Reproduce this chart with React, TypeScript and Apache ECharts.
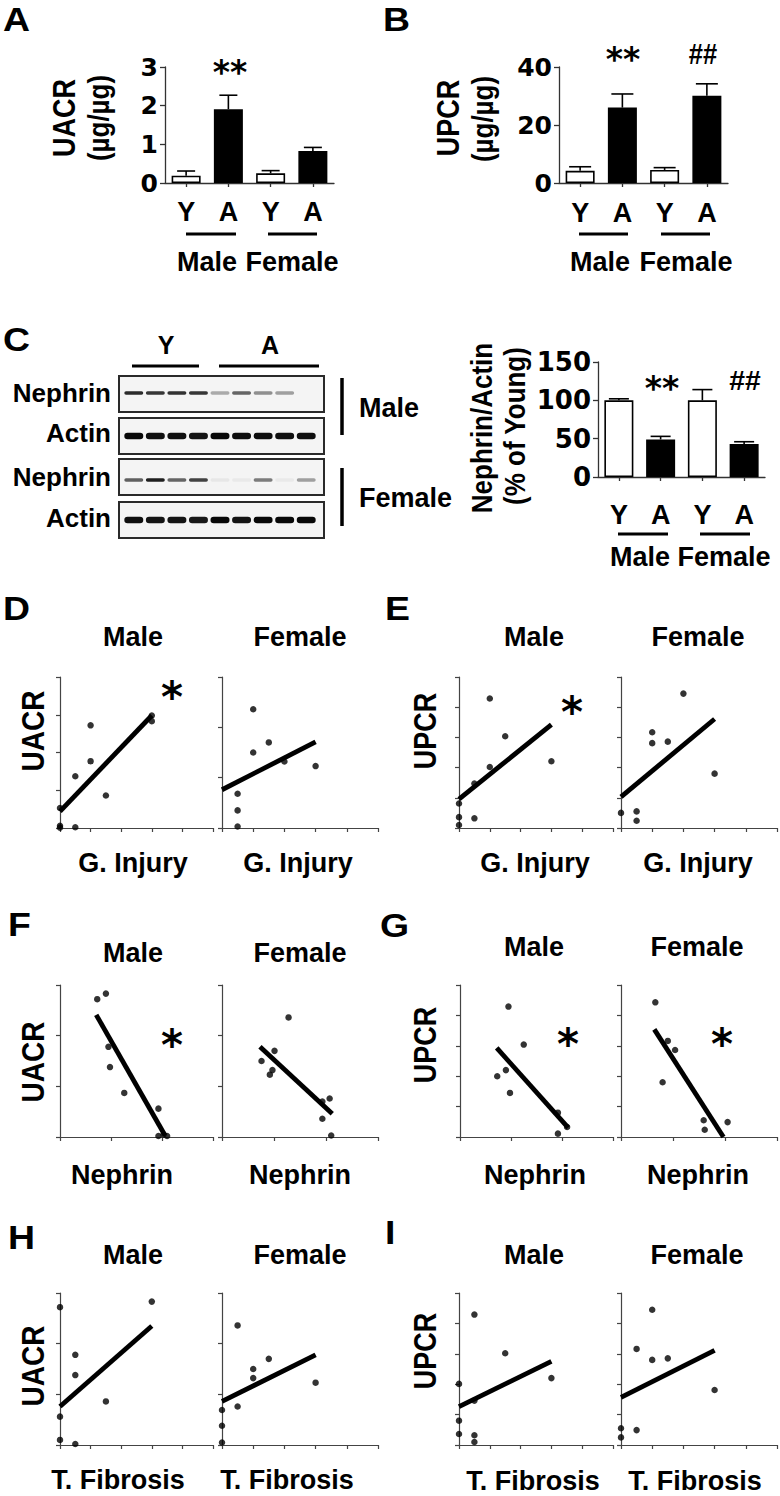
import React, { useEffect, useRef } from "react";
import * as echarts from "echarts";

const ARIAL = "'Liberation Sans', Arial, sans-serif";
const DEJAVU = "'DejaVu Sans', sans-serif";

// ---------- Bar chart data (A, B, C) ----------
const barCategories = ["Y", "A", "Y", "A"];
const barFills = ["#ffffff", "#000000", "#ffffff", "#000000"];
const uacrMeans = [0.19, 1.91, 0.25, 0.83];
const uacrUpper = [0.31, 2.27, 0.32, 0.92];
const upcrMeans = [4.2, 26.0, 4.5, 30.1];
const upcrUpper = [5.6, 30.7, 5.3, 34.2];
const nephrinMeans = [100, 49, 100, 43];
const nephrinUpper = [102, 53, 114, 46];

// ---------- Western blot (C) ----------
const blotLanes = ["1", "2", "3", "4", "5", "6", "7", "8", "9"];
const blotRows = ["Nephrin", "Actin", "Nephrin", "Actin"];
const nephrinMaleBands = [0.85, 0.8, 0.82, 0.8, 0.3, 0.6, 0.42, 0.35, 0];
const actinMaleBands = [1, 0.97, 0.97, 0.95, 1, 0.98, 0.98, 0.97, 0.97];
const nephrinFemaleBands = [0.62, 0.9, 0.6, 0.75, 0.04, 0.03, 0.5, 0.03, 0.35];
const actinFemaleBands = [0.97, 0.95, 0.95, 0.93, 1, 0.95, 1, 1, 1];

// ---------- Scatter data (D - I) ----------
const dMalePts = [[0, 0.53], [0, 0.06], [0, 0.01], [0.5, 0.02], [0.5, 1.37], [1, 2.72], [1, 1.77], [1.5, 0.86], [3, 2.98], [3, 2.83]];
const dMaleFit = [[0, 0.44], [3, 2.98]];
const dFemalePts = [[0.5, 0.68], [0.5, 0.35], [0.5, 0.03], [1, 2.36], [1, 1.5], [1.5, 1.7], [2, 1.32], [3, 1.23]];
const dFemaleFit = [[0, 0.76], [3, 1.71]];

const eMalePts = [[0, 0.81], [0, 0.36], [0, 0.1], [0.5, 0.32], [0.5, 1.47], [1, 2.02], [1, 4.29], [1.5, 3.04], [3, 2.21]];
const eMaleFit = [[0, 0.96], [3, 3.42]];
const eFemalePts = [[0, 0.5], [0.5, 0.55], [0.5, 0.24], [1, 3.17], [1, 2.81], [1.5, 2.86], [2, 4.45], [3, 1.8]];
const eFemaleFit = [[0, 1.03], [3, 3.61]];

const fMalePts = [[0.73, 2.72], [0.9, 2.83], [0.95, 1.78], [0.98, 1.38], [1.26, 0.87], [1.93, 0.56], [1.93, 0.02], [2.03, 0.05], [2.1, 0.02]];
const fMaleFit = [[0.71, 2.41], [2.06, 0.03]];
const fFemalePts = [[0.76, 1.5], [0.92, 1.23], [0.97, 1.32], [1.01, 1.7], [1.28, 2.36], [1.93, 0.36], [1.93, 0.7], [2.07, 0.76], [2.1, 0.03]];
const fFemaleFit = [[0.73, 1.78], [2.12, 0.46]];

const gMalePts = [[0.73, 2.0], [0.9, 2.2], [0.98, 1.45], [0.95, 4.29], [1.25, 3.04], [1.92, 0.8], [1.92, 0.11], [2.1, 0.33]];
const gMaleFit = [[0.72, 2.93], [2.12, 0.31]];
const gFemalePts = [[0.66, 4.43], [0.8, 1.8], [0.9, 3.16], [1.04, 2.86], [1.59, 0.55], [1.61, 0.24], [2.05, 0.49]];
const gFemaleFit = [[0.64, 3.54], [1.97, 0]];

const hMalePts = [[0, 2.72], [0, 0.56], [0, 0.1], [0.5, 1.78], [0.5, 1.38], [0.5, 0.02], [1.5, 0.86], [3, 2.83]];
const hMaleFit = [[0, 0.76], [3, 2.35]];
const hFemalePts = [[0, 0.69], [0, 0.38], [0, 0.05], [0.5, 2.36], [0.5, 0.76], [1, 1.5], [1, 1.32], [1.5, 1.7], [3, 1.23]];
const hFemaleFit = [[0, 0.86], [3, 1.78]];

const iMalePts = [[0, 2.01], [0, 0.8], [0, 0.36], [0.5, 1.46], [0.5, 0.32], [0.5, 0.1], [0.5, 4.29], [1.5, 3.02], [3, 2.2]];
const iMaleFit = [[0, 1.26], [3, 2.75]];
const iFemalePts = [[0, 0.55], [0, 0.25], [0.5, 0.49], [0.5, 3.16], [1, 2.8], [1.5, 2.85], [1, 4.45], [3, 1.81]];
const iFemaleFit = [[0, 1.57], [3, 3.11]];

// ---------- layout ----------
const grids = [
  { left: 165, top: 67, width: 169, height: 116 }, // 0 A
  { left: 559, top: 67, width: 169, height: 116 }, // 1 B
  { left: 123, top: 373, width: 194, height: 168 }, // 2 blot
  { left: 598, top: 362, width: 167, height: 115 }, // 3 C bars
  { left: 60, top: 677, width: 153, height: 151 }, // 4 D male
  { left: 222, top: 677, width: 156, height: 151 }, // 5 D female
  { left: 459, top: 677, width: 154, height: 151 }, // 6 E male
  { left: 621, top: 677, width: 156, height: 151 }, // 7 E female
  { left: 60, top: 985, width: 153, height: 152 }, // 8 F male
  { left: 222, top: 985, width: 156, height: 152 }, // 9 F female
  { left: 460, top: 985, width: 153, height: 152 }, // 10 G male
  { left: 621, top: 985, width: 156, height: 152 }, // 11 G female
  { left: 60, top: 1293, width: 153, height: 152 }, // 12 H male
  { left: 222, top: 1293, width: 156, height: 152 }, // 13 H female
  { left: 459, top: 1293, width: 154, height: 152 }, // 14 I male
  { left: 621, top: 1293, width: 156, height: 152 }, // 15 I female
];

const AXIS = "#333";
const ROT = Math.PI / 2;

function txt(text: string, x: number, y: number, o: any = {}) {
  const align = o.align || "center";
  return {
    type: "text",
    x,
    y,
    rotation: o.rot || 0,
    scaleX: o.sx || 1,
    scaleY: o.sy || 1,
    silent: true,
    style: {
      text,
      fill: "#000",
      fontSize: o.size || 27,
      fontWeight: o.weight || "bold",
      fontFamily: o.family || ARIAL,
      align,
      verticalAlign: "middle",
      textAlign: align,
      textVerticalAlign: "middle",
    },
  };
}
function vtxt(text: string, x: number, y: number, size = 27) {
  return txt(text, x, y, { rot: ROT, size, sy: 1.15 });
}
function hline(x1: number, y1: number, x2: number, y2: number, w = 3) {
  return { type: "line", silent: true, shape: { x1, y1, x2, y2 }, style: { stroke: "#000", lineWidth: w } };
}

export default function App() {
  const ref = useRef<HTMLDivElement>(null);
  useEffect(() => {
    document.body.style.margin = "0";
    const chart = echarts.init(ref.current!, null, { renderer: "svg" });

    const xAxes: any[] = [];
    const yAxes: any[] = [];
    const series: any[] = [];

    // ---- bar panels ----
    const barPanels = [
      { grid: 0, means: uacrMeans, upper: uacrUpper, max: 3, interval: 1, labelSize: 25, xMargin: 15, cap: 9 },
      { grid: 1, means: upcrMeans, upper: upcrUpper, max: 40, interval: 20, labelSize: 25, xMargin: 16, cap: 11 },
      { grid: 3, means: nephrinMeans, upper: nephrinUpper, max: 150, interval: 50, labelSize: 26, xMargin: 24, cap: 10 },
    ];
    barPanels.forEach((p) => {
      const ai = xAxes.length;
      xAxes.push({
        type: "category",
        gridIndex: p.grid,
        data: barCategories,
        axisLine: { show: true, lineStyle: { color: AXIS, width: 1.3 } },
        axisTick: { show: true, alignWithLabel: true, length: 4, lineStyle: { color: AXIS, width: 1.3 } },
        axisLabel: { show: true, margin: p.xMargin, fontSize: 27, fontWeight: "bold", fontFamily: ARIAL, color: "#000" },
        splitLine: { show: false },
      });
      yAxes.push({
        type: "value",
        gridIndex: p.grid,
        min: 0,
        max: p.max,
        interval: p.interval,
        axisLine: { show: true, lineStyle: { color: AXIS, width: 1.3 } },
        axisTick: { show: true, length: 5, lineStyle: { color: AXIS, width: 1.3 } },
        axisLabel: { show: true, margin: 7, fontSize: p.labelSize, fontWeight: "bold", fontFamily: DEJAVU, color: "#000" },
        splitLine: { show: false },
      });
      series.push({
        type: "bar",
        xAxisIndex: ai,
        yAxisIndex: ai,
        barWidth: 29,
        silent: true,
        data: p.means.map((v, k) => ({ value: v, itemStyle: { color: barFills[k], borderColor: "#000", borderWidth: 1.6 } })),
      });
      const cap = p.cap;
      series.push({
        type: "custom",
        xAxisIndex: ai,
        yAxisIndex: ai,
        silent: true,
        z: 5,
        data: p.means.map((m, k) => [k, m, p.upper[k]]),
        renderItem: (params: any, api: any) => {
          const k = api.value(0);
          const lo = api.coord([k, api.value(1)]);
          const hi = api.coord([k, api.value(2)]);
          return {
            type: "group",
            children: [
              { type: "line", shape: { x1: lo[0], y1: lo[1], x2: hi[0], y2: hi[1] }, style: { stroke: "#000", lineWidth: 1.6 } },
              { type: "line", shape: { x1: hi[0] - cap, y1: hi[1], x2: hi[0] + cap, y2: hi[1] }, style: { stroke: "#000", lineWidth: 1.6 } },
            ],
          };
        },
      });
    });

    // ---- blot ----
    const blotX = xAxes.length;
    xAxes.push({ type: "category", gridIndex: 2, data: blotLanes, show: false });
    yAxes.push({ type: "category", gridIndex: 2, data: blotRows, inverse: true, show: false });
    const bandSets = [
      { row: 0, vals: nephrinMaleBands, th: 3.5, dy: -1 },
      { row: 1, vals: actinMaleBands, th: 6.5, dy: 0 },
      { row: 2, vals: nephrinFemaleBands, th: 3.5, dy: 2 },
      { row: 3, vals: actinFemaleBands, th: 6.5, dy: 0 },
    ];
    const blotData: any[] = [];
    bandSets.forEach((b) => b.vals.forEach((v, lane) => { if (v > 0.01) blotData.push([lane, b.row, v, b.th, b.dy]); }));
    series.push({
      type: "custom",
      xAxisIndex: blotX,
      yAxisIndex: blotX,
      silent: true,
      z: 3,
      data: blotData,
      renderItem: (params: any, api: any) => {
        const c = api.coord([api.value(0), api.value(1)]);
        const inten = api.value(2);
        const th = api.value(3);
        const dy = api.value(4);
        const w = api.size([1, 0])[0] * 0.88;
        const g = Math.round(240 - inten * 232);
        return {
          type: "rect",
          shape: { x: c[0] - w / 2, y: c[1] - th / 2 + dy, width: w, height: th, r: th / 2 },
          style: { fill: `rgb(${g},${g},${g})` },
        };
      },
    });

    // ---- scatter panels ----
    const scatterPanels = [
      { grid: 4, xMax: 5, yMax: 4, pts: dMalePts, fit: dMaleFit },
      { grid: 5, xMax: 5, yMax: 3, pts: dFemalePts, fit: dFemaleFit },
      { grid: 6, xMax: 5, yMax: 5, pts: eMalePts, fit: eMaleFit },
      { grid: 7, xMax: 5, yMax: 5, pts: eFemalePts, fit: eFemaleFit },
      { grid: 8, xMax: 3, yMax: 3, pts: fMalePts, fit: fMaleFit },
      { grid: 9, xMax: 3, yMax: 3, pts: fFemalePts, fit: fFemaleFit },
      { grid: 10, xMax: 3, yMax: 5, pts: gMalePts, fit: gMaleFit },
      { grid: 11, xMax: 3, yMax: 5, pts: gFemalePts, fit: gFemaleFit },
      { grid: 12, xMax: 5, yMax: 3, pts: hMalePts, fit: hMaleFit },
      { grid: 13, xMax: 5, yMax: 3, pts: hFemalePts, fit: hFemaleFit },
      { grid: 14, xMax: 5, yMax: 5, pts: iMalePts, fit: iMaleFit },
      { grid: 15, xMax: 5, yMax: 5, pts: iFemalePts, fit: iFemaleFit },
    ];
    const sAxis = (grid: number, max: number) => ({
      type: "value",
      gridIndex: grid,
      min: 0,
      max,
      interval: 1,
      axisLine: { show: true, lineStyle: { color: "#444", width: 1.2 } },
      axisTick: { show: true, length: 4, lineStyle: { color: "#444", width: 1.2 } },
      axisLabel: { show: false },
      splitLine: { show: false },
    });
    scatterPanels.forEach((p) => {
      const ai = xAxes.length;
      xAxes.push(sAxis(p.grid, p.xMax));
      yAxes.push(sAxis(p.grid, p.yMax));
      series.push({
        type: "scatter",
        xAxisIndex: ai,
        yAxisIndex: ai,
        data: p.pts,
        symbol: "circle",
        symbolSize: 6.5,
        itemStyle: { color: "#000" },
        clip: false,
        silent: true,
        z: 4,
      });
      series.push({
        type: "line",
        xAxisIndex: ai,
        yAxisIndex: ai,
        data: p.fit,
        showSymbol: false,
        symbol: "none",
        lineStyle: { color: "#000", width: 4.8 },
        clip: false,
        silent: true,
        z: 3,
      });
    });

    // ---- annotations ----
    const g: any[] = [];
    [["A", 3, 20], ["B", 383, 20], ["C", 3, 340], ["D", 3, 609], ["E", 385, 609], ["F", 8, 925], ["G", 380, 926], ["H", 8, 1238], ["I", 385, 1233]].forEach(
      ([t, x, y]: any) => g.push(txt(t, x, y, { size: 34, align: "left", sx: 1.1 }))
    );

    // A
    g.push(vtxt("UACR", 64, 118, 27));
    g.push(vtxt("(µg/µg)", 99, 118, 26));
    g.push(txt("**", 230, 72, { size: 33, family: DEJAVU }));
    g.push(hline(186, 234, 236, 234), hline(268, 234, 317, 234));
    g.push(txt("Male", 207, 262), txt("Female", 292, 262));
    // B
    g.push(vtxt("UPCR", 448, 118, 27));
    g.push(vtxt("(µg/µg)", 483, 119, 26));
    g.push(txt("**", 623, 59, { size: 33, family: DEJAVU }));
    g.push(txt("##", 703, 54, { size: 30, sx: 0.85 }));
    g.push(hline(579, 234, 628, 234), hline(661, 234, 710, 234));
    g.push(txt("Male", 600, 262), txt("Female", 686, 262));
    // C blot
    g.push(txt("Y", 166, 345, { size: 25 }), txt("A", 270, 345, { size: 25 }));
    g.push(hline(132, 366, 199, 366), hline(219, 366, 319, 366));
    [[376, 412], [418, 454], [459, 495], [502, 538]].forEach(([y1, y2]) =>
      g.push({ type: "rect", silent: true, shape: { x: 119, y: y1, width: 205, height: y2 - y1 }, style: { fill: "#f4f4f4", stroke: "#2a2a2a", lineWidth: 2 } })
    );
    g.push(txt("Nephrin", 111, 393, { size: 26, align: "right" }));
    g.push(txt("Actin", 111, 433, { size: 26, align: "right" }));
    g.push(txt("Nephrin", 111, 477, { size: 26, align: "right" }));
    g.push(txt("Actin", 111, 518, { size: 26, align: "right" }));
    g.push(hline(342, 378, 342, 435, 3.5), hline(342, 468, 342, 526, 3.5));
    g.push(txt("Male", 359, 408, { align: "left" }), txt("Female", 359, 498, { align: "left" }));
    // C bars
    g.push(vtxt("Nephrin/Actin", 482, 428, 26));
    g.push(vtxt("(% of Young)", 515, 426, 26));
    g.push(txt("**", 662, 388, { size: 33, family: DEJAVU }));
    g.push(txt("##", 745, 381, { size: 27, sx: 1.05 }));
    g.push(hline(618, 534, 668, 534), hline(700, 534, 750, 534));
    g.push(txt("Male", 640, 557), txt("Female", 724, 557));

    // D
    g.push(txt("Male", 133, 637), txt("Female", 300, 637));
    g.push(txt("G. Injury", 133, 863), txt("G. Injury", 298, 863));
    g.push(vtxt("UACR", 33, 731, 28));
    g.push(txt("*", 172, 697, { size: 42, family: DEJAVU }));
    // E
    g.push(txt("Male", 534, 637), txt("Female", 698, 637));
    g.push(txt("G. Injury", 535, 863), txt("G. Injury", 698, 863));
    g.push(vtxt("UPCR", 425, 731, 27));
    g.push(txt("*", 572, 712, { size: 42, family: DEJAVU }));
    // F
    g.push(txt("Male", 133, 953), txt("Female", 300, 953));
    g.push(txt("Nephrin", 122, 1175), txt("Nephrin", 300, 1175));
    g.push(vtxt("UACR", 33, 1062, 28));
    g.push(txt("*", 172, 1045, { size: 42, family: DEJAVU }));
    // G
    g.push(txt("Male", 534, 947), txt("Female", 697, 947));
    g.push(txt("Nephrin", 535, 1175), txt("Nephrin", 698, 1175));
    g.push(vtxt("UPCR", 425, 1045, 27));
    g.push(txt("*", 568, 1044, { size: 42, family: DEJAVU }), txt("*", 722, 1044, { size: 42, family: DEJAVU }));
    // H
    g.push(txt("Male", 133, 1255), txt("Female", 300, 1255));
    g.push(txt("T. Fibrosis", 118, 1480), txt("T. Fibrosis", 287, 1480));
    g.push(vtxt("UACR", 33, 1366, 28));
    // I
    g.push(txt("Male", 534, 1255), txt("Female", 697, 1255));
    g.push(txt("T. Fibrosis", 533, 1481), txt("T. Fibrosis", 695, 1481));
    g.push(vtxt("UPCR", 425, 1351, 27));

    chart.setOption({
      animation: false,
      backgroundColor: "#ffffff",
      textStyle: { fontFamily: ARIAL },
      grid: grids.map((gr) => ({ ...gr, containLabel: false, outerBoundsMode: "none" })),
      xAxis: xAxes,
      yAxis: yAxes,
      series,
      graphic: { elements: g },
    });
    return () => chart.dispose();
  }, []);
  return <div ref={ref} style={{ width: 780, height: 1496 }} />;
}
